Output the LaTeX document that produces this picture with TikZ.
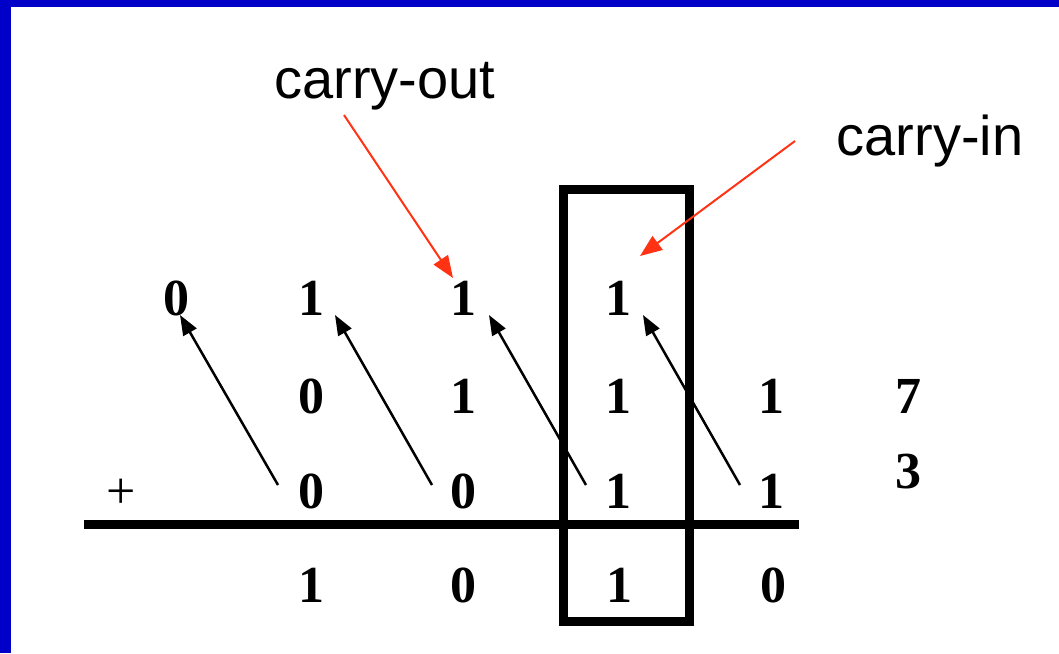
\documentclass[tikz,border=0pt]{standalone}
\usepackage{fontspec}
\setmainfont{Liberation Serif}
\setsansfont{Liberation Sans}
\usetikzlibrary{arrows.meta}
\definecolor{frameblue}{RGB}{0,0,200}
\definecolor{carryred}{RGB}{255,50,20}
\begin{document}
\begin{tikzpicture}[x=1pt,y=-1pt,
  digit/.style={font=\fontsize{52}{52}\selectfont\bfseries, inner sep=0pt, anchor=base},
  plussign/.style={font=\fontsize{52}{52}\selectfont, inner sep=0pt, anchor=base},
  label/.style={font=\sffamily\fontsize{56}{56}\selectfont, inner sep=0pt, anchor=base},
  carryarrow/.style={black, line width=2.5pt, -{Triangle[length=20pt,width=15pt]}},
  redarrow/.style={carryred, line width=2pt, -{Triangle[length=22pt,width=17pt]}},
  heavy/.style={black, line width=9pt}]
\useasboundingbox (0,0) rectangle (1059,653);
\fill[frameblue] (0,0) rectangle (1059,7);
\fill[frameblue] (0,0) rectangle (11,653);

% labels
\node[label] (cout) at (385,98) {carry-out};
\node[label] (cin) at (930,155) {carry-in};

% carry row
\node[digit] (c0) at (176,315) {0};
\node[digit] (c1) at (311,315) {1};
\node[digit] (c2) at (463,315) {1};
\node[digit] (c3) at (618,315) {1};

% first operand
\node[digit] (a1) at (311,413) {0};
\node[digit] (a2) at (463,413) {1};
\node[digit] (a3) at (618,413) {1};
\node[digit] (a4) at (771,413) {1};
\node[digit] (seven) at (908,413) {7};

% second operand
\node[plussign] (plus) at (121,508) {+};
\node[digit] (b1) at (311,508) {0};
\node[digit] (b2) at (463,508) {0};
\node[digit] (b3) at (618,508) {1};
\node[digit] (b4) at (771,508) {1};
\node[digit] (three) at (908,488) {3};

% result
\node[digit] (r1) at (311,602) {1};
\node[digit] (r2) at (463,602) {0};
\node[digit] (r3) at (619,602) {1};
\node[digit] (r4) at (773,602) {0};

% sum line
\coordinate (lineL) at (84,524.5);
\coordinate (lineR) at (799,524.5);
\draw[heavy] (lineL) -- (lineR);

% highlight box
\coordinate (boxA) at (563,189);
\coordinate (boxB) at (689,621);
\draw[heavy] (boxA) rectangle (boxB);

% carry arrows
\coordinate (t1) at (278,485); \coordinate (h1) at (180,315);
\coordinate (t2) at (432,485); \coordinate (h2) at (335,315);
\coordinate (t3) at (586,485); \coordinate (h3) at (489,315);
\coordinate (t4) at (740,485); \coordinate (h4) at (643,315);
\draw[carryarrow] (t1) -- (h1);
\draw[carryarrow] (t2) -- (h2);
\draw[carryarrow] (t3) -- (h3);
\draw[carryarrow] (t4) -- (h4);

% red label arrows
\coordinate (coT) at (344,115); \coordinate (coH) at (453,278);
\coordinate (ciT) at (795,141); \coordinate (ciH) at (640,256);
\draw[redarrow] (coT) -- (coH);
\draw[redarrow] (ciT) -- (ciH);
\end{tikzpicture}
\end{document}
